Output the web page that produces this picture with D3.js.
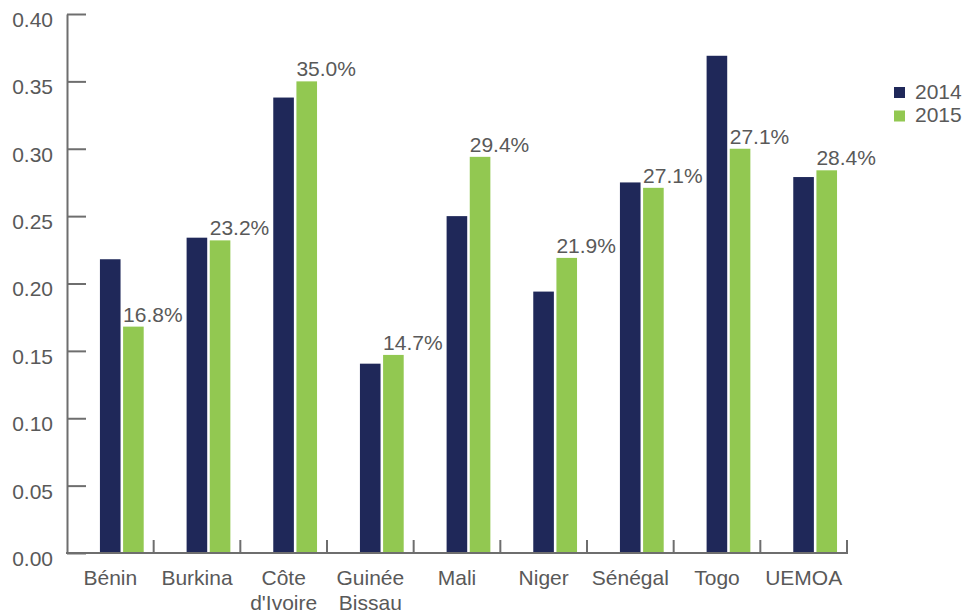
<!DOCTYPE html>
<html>
<head>
<meta charset="utf-8">
<script src="https://cdn.jsdelivr.net/npm/d3@7"></script>
<style>
  html, body { margin: 0; padding: 0; background: #fff; }
  svg { display: block; }
  text { font-family: "Liberation Sans", Arial, Helvetica, sans-serif; fill: #595959; }
</style>
</head>
<body>
<svg id="chart" width="963" height="614"></svg>
<script>
const categories = ["Bénin", "Burkina", "Côte\nd'Ivoire", "Guinée\nBissau", "Mali", "Niger", "Sénégal", "Togo", "UEMOA"];
const seriesNames = ["2014", "2015"];
const values2014 = [0.218, 0.234, 0.338, 0.1405, 0.250, 0.194, 0.275, 0.369, 0.279];
const values2015 = [0.168, 0.232, 0.350, 0.147, 0.294, 0.219, 0.271, 0.300, 0.284];
const labels2015 = ["16.8%", "23.2%", "35.0%", "14.7%", "29.4%", "21.9%", "27.1%", "27.1%", "28.4%"];
const yTicks = [0, 0.05, 0.10, 0.15, 0.20, 0.25, 0.30, 0.35, 0.40];
const colors = ["#1f2859", "#92c851"];

const svg = d3.select("#chart");
const axisColor = "#6e6e6e";
const fontSize = 21;

const y = d3.scaleLinear().domain([0, 0.4]).range([553, 14]);
const x = d3.scaleBand().domain(categories).range([67, 847]).padding(0);
const bw = x.bandwidth();
const xs = d3.scaleBand().domain(seriesNames).range([0.38 * bw, 0.885 * bw]).paddingInner(0.11);

const seriesData = [values2014, values2015];

// bars
seriesNames.forEach((s, si) => {
  svg.append("g").selectAll("rect")
    .data(categories.map((c, i) => ({ c, v: seriesData[si][i] })))
    .join("rect")
    .attr("x", d => x(d.c) + xs(s))
    .attr("width", xs.bandwidth())
    .attr("y", d => y(d.v))
    .attr("height", d => y(0) - y(d.v))
    .attr("fill", colors[si]);
});

// data labels for 2015
svg.append("g").selectAll("text")
  .data(categories.map((c, i) => ({ c, v: values2015[i], t: labels2015[i] })))
  .join("text")
  .attr("x", d => x(d.c) + xs("2015"))
  .attr("y", d => y(d.v) - 5)
  .attr("font-size", fontSize)
  .text(d => d.t);

// y axis
const yAxis = d3.axisLeft(y)
  .tickValues(yTicks)
  .tickFormat(d3.format(".2f"))
  .tickSizeInner(-19)
  .tickSizeOuter(0)
  .tickPadding(14);
const gy = svg.append("g").attr("transform", "translate(67,0)").call(yAxis);
gy.select(".domain").attr("stroke", axisColor).attr("stroke-width", 2);
gy.selectAll(".tick line").attr("stroke", axisColor).attr("stroke-width", 2);
gy.selectAll(".tick text")
  .attr("font-size", fontSize)
  .attr("font-family", "Liberation Sans, Arial, sans-serif")
  .attr("fill", "#595959")
  .attr("dy", "0.59em");

// x axis baseline
svg.append("line")
  .attr("x1", 66).attr("x2", x.range()[1] + 1)
  .attr("y1", y(0)).attr("y2", y(0))
  .attr("stroke", axisColor).attr("stroke-width", 2);

// category separators
const bounds = categories.map(c => x(c) + bw);
svg.append("g").selectAll("line")
  .data(bounds)
  .join("line")
  .attr("x1", d => d).attr("x2", d => d)
  .attr("y1", y(0)).attr("y2", y(0) - 13)
  .attr("stroke", axisColor).attr("stroke-width", 2);

// category labels
const gl = svg.append("g").selectAll("text")
  .data(categories)
  .join("text")
  .attr("text-anchor", "middle")
  .attr("font-size", fontSize)
  .attr("transform", d => `translate(${x(d) + bw / 2},585)`);
gl.selectAll("tspan")
  .data(d => d.split("\n"))
  .join("tspan")
  .attr("x", 0)
  .attr("y", (d, i) => i * 24.5)
  .text(d => d);

// legend
const lg = svg.append("g").selectAll("g")
  .data(seriesNames)
  .join("g")
  .attr("transform", (d, i) => `translate(894,${87 + i * 23.5})`);
lg.append("rect").attr("width", 11).attr("height", 11).attr("fill", (d, i) => colors[i]);
lg.append("text").attr("x", 21).attr("y", 11.5).attr("font-size", fontSize).text(d => d);
</script>
</body>
</html>
